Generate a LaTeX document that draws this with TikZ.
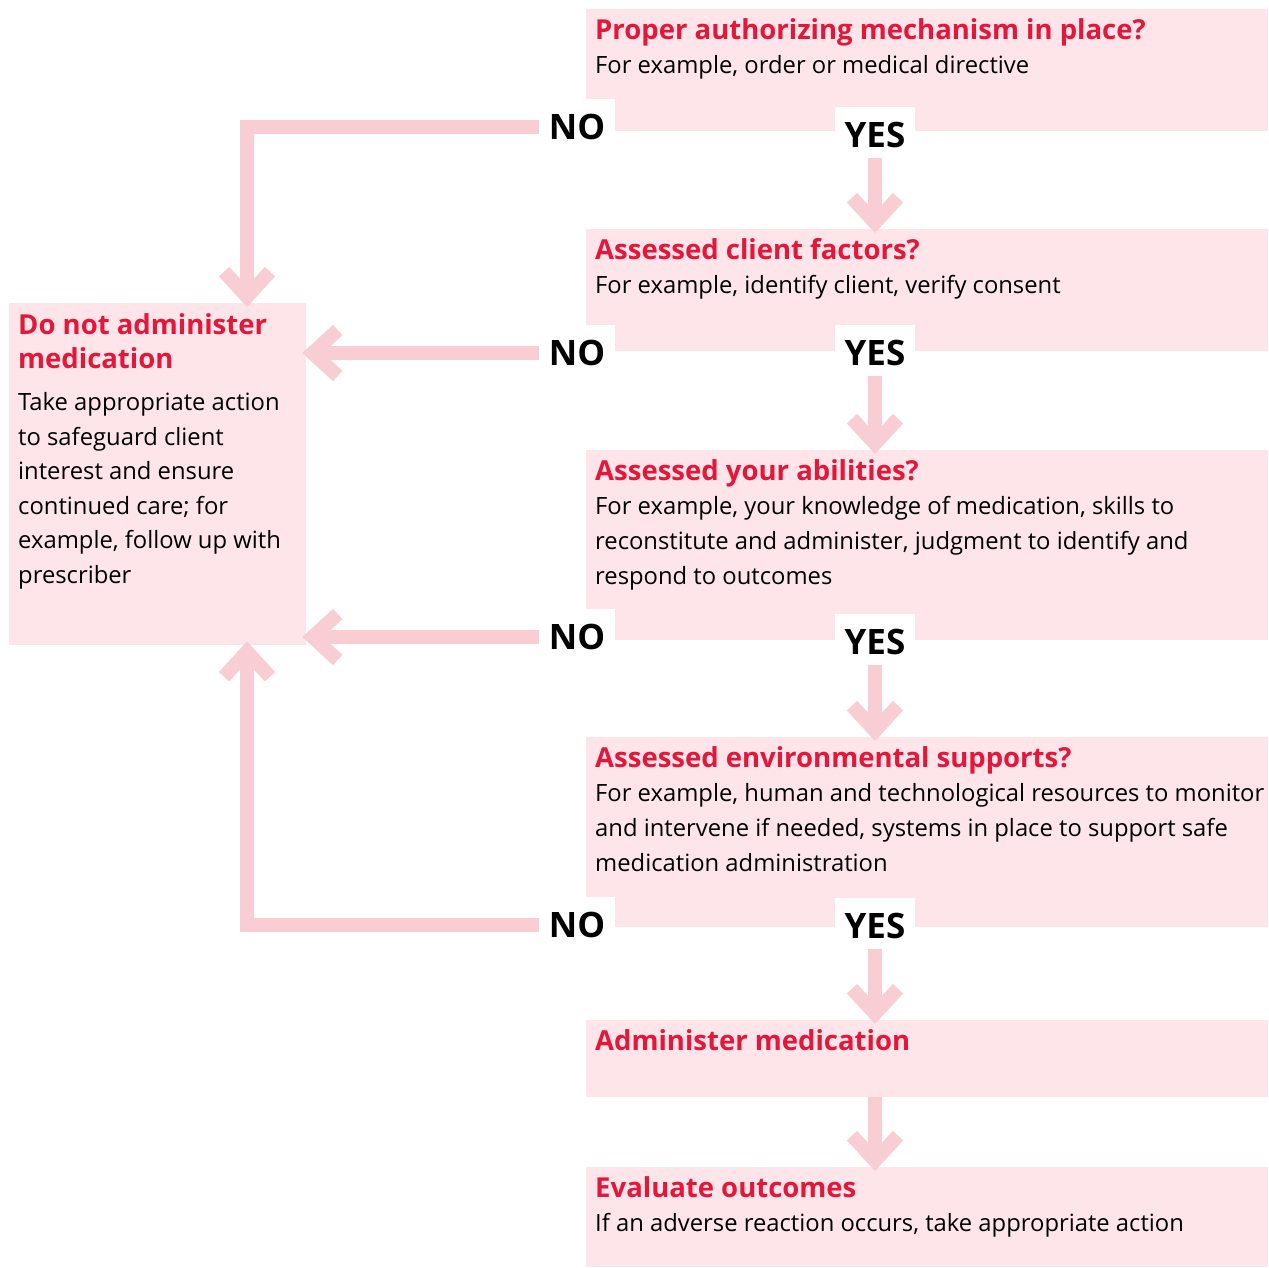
\documentclass[tikz,border=0pt]{standalone}
\usepackage{fontspec}
\setmainfont{Open Sans}
\usetikzlibrary{arrows.meta}
\definecolor{boxPink}{RGB}{253,229,233}
\definecolor{arrowPink}{RGB}{248,205,212}
\definecolor{titleRed}{RGB}{228,22,58}
\tikzstyle{stepBoxStyle} = [fill=boxPink, anchor=north west, inner sep=0pt, minimum width=682pt]
\tikzstyle{stepTextStyle} = [anchor=north west, align=left, inner sep=0pt, font=\fontsize{23.8}{34.6}\selectfont]
\tikzstyle{answerStyle} = [fill=white, inner xsep=10pt, inner ysep=15pt, font=\fontsize{35}{35}\selectfont\bfseries]
\tikzstyle{flowArrow} = [draw=arrowPink, line width=14pt, line join=miter, shorten >=-4pt, -{Straight Barb[length=25pt, width=46pt]}]
\newcommand{\titleFont}{\fontsize{27.5}{34.6}\selectfont\bfseries\color{titleRed}\rule{0pt}{22pt}}
\newcommand{\stepBox}[3]{\node [stepBoxStyle, minimum height=#3] (#1) at (586,#2) {};}
\newcommand{\stepText}[3]{\node [stepTextStyle] (#1Text) at ([shift={(9,8)}]#1.north west) {{\titleFont #2}#3};}

\begin{document}
\begin{tikzpicture}[x=1pt, y=-1pt]
  \useasboundingbox (0,0) rectangle (1269,1268);

  % boxes
  \stepBox{authBox}{9}{122pt}
  \stepBox{clientBox}{229}{122pt}
  \stepBox{abilityBox}{450}{190pt}
  \stepBox{envBox}{737}{190pt}
  \stepBox{giveBox}{1020}{77pt}
  \stepBox{evalBox}{1167}{100pt}
  \node [stepBoxStyle, minimum width=297pt, minimum height=342pt] (stopBox) at (9,303) {};

  % yes / no
  \node [answerStyle] (noAuth) at (577,127) {NO};
  \node [answerStyle] (yesAuth) at (875,135) {YES};
  \node [answerStyle] (noClient) at (577,353) {NO};
  \node [answerStyle] (yesClient) at (875,353) {YES};
  \node [answerStyle] (noAbility) at (577,637) {NO};
  \node [answerStyle] (yesAbility) at (875,642) {YES};
  \node [answerStyle] (noEnv) at (577,925) {NO};
  \node [answerStyle] (yesEnv) at (875,926) {YES};

  % arrows
  \coordinate (stopTop) at ([xshift=238pt]stopBox.north west);
  \coordinate (stopBottom) at ([xshift=238pt]stopBox.south west);
  \draw [flowArrow, shorten <=-5pt] (yesAuth) -- (yesAuth |- clientBox.north);
  \draw [flowArrow, shorten <=-5pt] (yesClient) -- (yesClient |- abilityBox.north);
  \draw [flowArrow, shorten <=-5pt] (yesAbility) -- (yesAbility |- envBox.north);
  \draw [flowArrow, shorten <=-5pt] (yesEnv) -- (yesEnv |- giveBox.north);
  \draw [flowArrow] (giveBox.south -| yesEnv) -- (evalBox.north -| yesEnv);
  \draw [flowArrow] (noAuth) -| (stopTop);
  \draw [flowArrow] (noClient) -- (noClient -| stopBox.east);
  \draw [flowArrow] (noAbility) -- (noAbility -| stopBox.east);
  \draw [flowArrow] (noEnv) -| (stopBottom);

  % texts
  \stepText{authBox}{Proper authorizing mechanism in place?}{\\For example, order or medical directive}
  \stepText{clientBox}{Assessed client factors?}{\\For example, identify client, verify consent}
  \stepText{abilityBox}{Assessed your abilities?}{\\For example, your knowledge of medication, skills to\\reconstitute and administer, judgment to identify and\\respond to outcomes}
  \stepText{envBox}{Assessed environmental supports?}{\\For example, human and technological resources to monitor\\and intervene if needed, systems in place to support safe\\medication administration}
  \stepText{giveBox}{Administer medication}{}
  \stepText{evalBox}{Evaluate outcomes}{\\If an adverse reaction occurs, take appropriate action}
  \node [stepTextStyle] (stopText) at ([shift={(9,9)}]stopBox.north west)
    {{\titleFont Do not administer}\\{\titleFont medication}\\[7pt]Take appropriate action\\to safeguard client\\interest and ensure\\continued care; for\\example, follow up with\\prescriber};
\end{tikzpicture}
\end{document}
